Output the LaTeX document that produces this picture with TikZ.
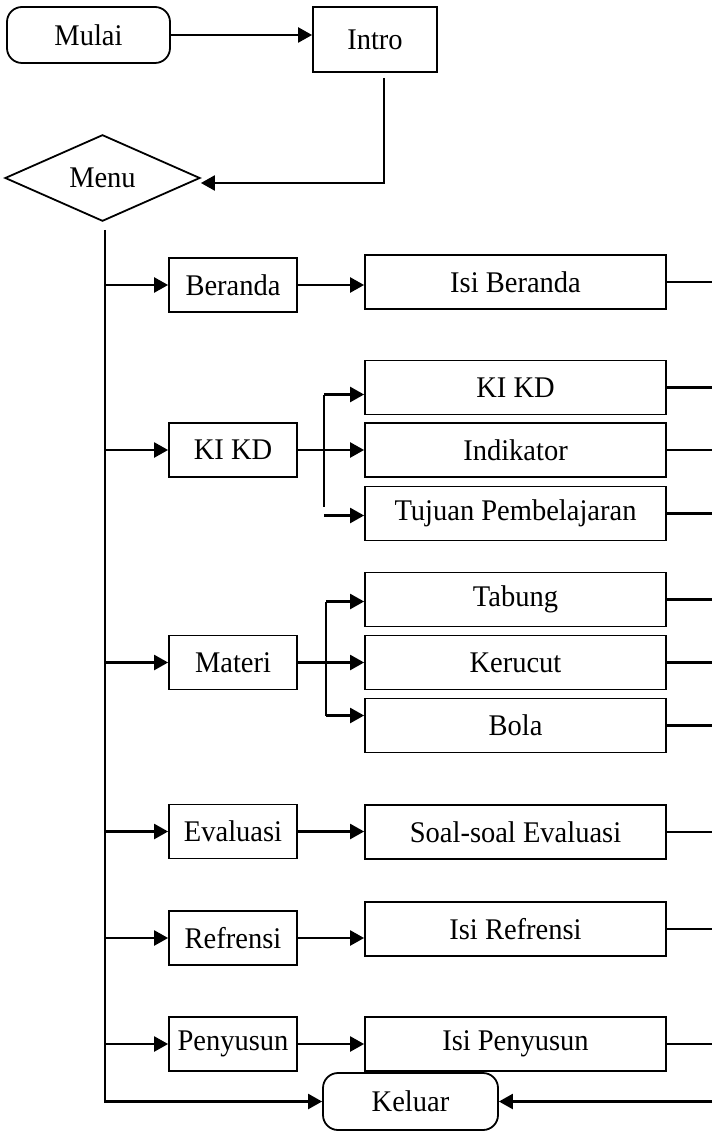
\documentclass[tikz,border=0pt]{standalone}
\usepackage{fontspec}
\setmainfont{Liberation Serif}[FakeStretch=0.95]
\usetikzlibrary{shapes.geometric,arrows.meta}
\begin{document}
\begin{tikzpicture}[x=1pt,y=-1pt,
  every node/.style={font=\fontsize{30}{33}\selectfont, inner sep=0pt},
  box/.style={draw, line width=1.8pt, minimum height=54pt},
  lbox/.style={box, minimum width=128pt},
  rbox/.style={box, minimum width=301pt},
  term/.style={draw, line width=1.8pt, rounded corners=15pt},
  ln/.style={line width=2.4pt},
  arr/.style={ln, -{Triangle[length=14pt,width=15pt]}}]
\useasboundingbox (0,0) rectangle (712,1131);
% top
\node[term, minimum width=163pt, minimum height=56pt] (mulai) at (88.5,35) {Mulai};
\node[box, minimum width=124pt, minimum height=65pt] (intro) at (375,39.5) {Intro};
\node[draw, diamond, line width=1.8pt, minimum width=195pt, minimum height=80pt] (menu) at (102.5,178) {Menu};
\draw[arr] (mulai.east) -- (mulai.east -| intro.west);
\draw[arr] ([xshift=9pt,yshift=-5pt]intro.south) |- ([yshift=-5pt]menu.east);
% trunk / edge coordinates
\coordinate (t0) at (105,230);
\coordinate (fa) at (324,0);
\coordinate (fb) at (326,0);
\coordinate (edge) at (712,0);
% left boxes
\node[lbox] (beranda) at (233,285) {Beranda};
\node[lbox] (kikd) at (233,450) {KI KD};
\node[lbox] (materi) at (233,662.5) {Materi};
\node[lbox] (evaluasi) at (233,831.5) {Evaluasi};
\node[lbox] (refrensi) at (233,938) {Refrensi};
\node[lbox] (penyusun) at (233,1044) {Penyusun};
% right boxes
\node[rbox] (isiberanda) at (515.5,282) {Isi Beranda};
\node[rbox] (ki) at (515.5,387.5) {KI KD};
\node[rbox] (indikator) at (515.5,450) {Indikator};
\node[rbox] (tujuan) at (515.5,513.5) {Tujuan Pembelajaran};
\node[rbox] (tabung) at (515.5,599.5) {Tabung};
\node[rbox] (kerucut) at (515.5,662.5) {Kerucut};
\node[rbox] (bola) at (515.5,725.5) {Bola};
\node[rbox] (soal) at (515.5,832) {Soal-soal Evaluasi};
\node[rbox] (isirefrensi) at (515.5,929) {Isi Refrensi};
\node[rbox] (isipenyusun) at (515.5,1044) {Isi Penyusun};
\node[term, minimum width=175pt, minimum height=57pt] (keluar) at (410.5,1101.5) {Keluar};
% trunk
\draw[arr] (t0) |- (keluar.west);
\foreach \n in {beranda,kikd,materi,evaluasi,refrensi,penyusun}
  \draw[arr] (\n.west -| t0) -- (\n.west);
% left to right
\draw[arr] (beranda.east) -- (beranda.east -| isiberanda.west);
\draw[arr] (kikd.east) -- (kikd.east -| indikator.west);
\draw[arr] (materi.east) -- (materi.east -| kerucut.west);
\draw[arr] (evaluasi.east) -- (evaluasi.east -| soal.west);
\draw[arr] (refrensi.east) -- (refrensi.east -| isirefrensi.west);
\draw[arr] (penyusun.east) -- (penyusun.east -| isipenyusun.west);
% forks
\draw[ln] ([yshift=-7pt]ki.west -| fa) -- ([yshift=7pt]tujuan.west -| fa);
\draw[arr] ([yshift=-7pt]ki.west -| fa) -- ([yshift=-7pt]ki.west);
\draw[arr] ([yshift=-2pt]tujuan.west -| fa) -- ([yshift=-2pt]tujuan.west);
\draw[ln] ([yshift=-2pt]tabung.west -| fb) -- ([yshift=10pt]bola.west -| fb);
\draw[arr] ([yshift=-2pt]tabung.west -| fb) -- ([yshift=-2pt]tabung.west);
\draw[arr] ([yshift=10pt]bola.west -| fb) -- ([yshift=10pt]bola.west);
% right exits
\foreach \n in {isiberanda,ki,indikator,tujuan,tabung,kerucut,bola,soal,isirefrensi,isipenyusun}
  \draw[ln] (\n.east) -- (\n.east -| edge);
\draw[arr] (keluar.east -| edge) -- (keluar.east);
\end{tikzpicture}
\end{document}
